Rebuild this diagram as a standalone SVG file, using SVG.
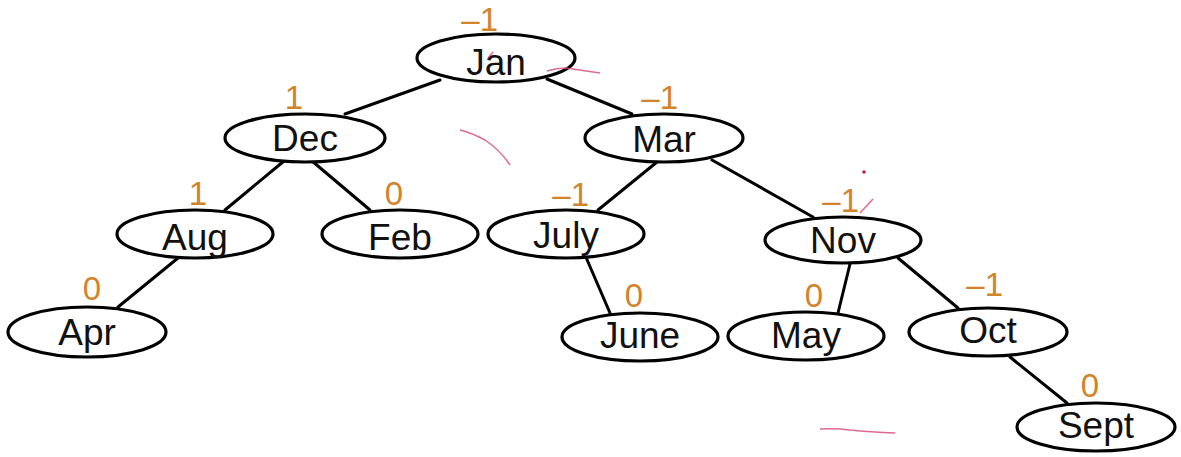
<svg xmlns="http://www.w3.org/2000/svg" width="1181" height="457" viewBox="0 0 1181 457">
<style>
.n ellipse{fill:#fff;stroke:#000;stroke-width:3.2}
.n text{font-family:"Liberation Sans",Arial,sans-serif;font-size:37px;fill:#111;text-anchor:middle}
.b{font-family:"Liberation Sans",Arial,sans-serif;font-size:33px;fill:#d2832c;text-anchor:end}
#edges line{stroke:#000;stroke-width:3;stroke-linecap:round}
#ink path{fill:none;stroke:#d4457a;stroke-width:1.5;opacity:0.8}
</style>
<rect width="1181" height="457" fill="#fff"/>
<g id="edges">
<line x1="440" y1="80" x2="345" y2="114"/>
<line x1="547" y1="79" x2="632" y2="114"/>
<line x1="284" y1="161" x2="225" y2="210"/>
<line x1="312" y1="161" x2="370" y2="210"/>
<line x1="657" y1="162" x2="598" y2="210"/>
<line x1="712" y1="160" x2="813" y2="217"/>
<line x1="178" y1="258" x2="118" y2="307"/>
<line x1="585" y1="255" x2="610" y2="313"/>
<line x1="850" y1="264" x2="838" y2="313"/>
<line x1="898" y1="258" x2="958" y2="308"/>
<line x1="1010" y1="357" x2="1067" y2="403"/>
</g>
<g id="jan" class="n"><ellipse cx="496" cy="58" rx="79" ry="24"/><text x="496" y="75">Jan</text></g>
<g id="dec" class="n"><ellipse cx="305" cy="138" rx="80" ry="24"/><text x="305" y="151">Dec</text></g>
<g id="mar" class="n"><ellipse cx="664" cy="138" rx="79" ry="24"/><text x="664" y="152">Mar</text></g>
<g id="aug" class="n"><ellipse cx="195" cy="234" rx="78" ry="24"/><text x="195" y="250">Aug</text></g>
<g id="feb" class="n"><ellipse cx="400" cy="234" rx="78" ry="24"/><text x="400" y="250">Feb</text></g>
<g id="july" class="n"><ellipse cx="566" cy="234" rx="78" ry="24"/><text x="566" y="248">July</text></g>
<g id="nov" class="n"><ellipse cx="843" cy="240" rx="78" ry="23"/><text x="843" y="253">Nov</text></g>
<g id="apr" class="n"><ellipse cx="87" cy="332" rx="79" ry="25"/><text x="87" y="345">Apr</text></g>
<g id="june" class="n"><ellipse cx="640" cy="337" rx="78" ry="24"/><text x="640" y="348">June</text></g>
<g id="may" class="n"><ellipse cx="806" cy="336" rx="78" ry="24"/><text x="806" y="348">May</text></g>
<g id="oct" class="n"><ellipse cx="988" cy="332" rx="79" ry="24"/><text x="988" y="343">Oct</text></g>
<g id="sept" class="n"><ellipse cx="1096" cy="427" rx="79" ry="24"/><text x="1096" y="438">Sept</text></g>
<g id="balance">
<text class="b" x="498" y="31">–1</text>
<text class="b" x="303" y="109">1</text>
<text class="b" x="678" y="109">–1</text>
<text class="b" x="207" y="205">1</text>
<text class="b" x="403" y="205">0</text>
<text class="b" x="589" y="206">–1</text>
<text class="b" x="859" y="212">–1</text>
<text class="b" x="643" y="307">0</text>
<text class="b" x="823" y="307">0</text>
<text class="b" x="101" y="300">0</text>
<text class="b" x="1003" y="296">–1</text>
<text class="b" x="1099" y="397">0</text>
</g>
<g id="ink">
<path d="M547 71 Q556 68 566 68 Q580 70 600 73"/>
<path d="M488 58 L493 52"/>
<path d="M460 130 Q472 133 485 140 Q500 150 510 165"/>
<path d="M860 213 L873 199"/>
<path d="M820 429 Q835 428 850 430 Q870 432 895 433"/>
<circle cx="864" cy="172" r="1.8" fill="#c02040"/>
</g>
</svg>
